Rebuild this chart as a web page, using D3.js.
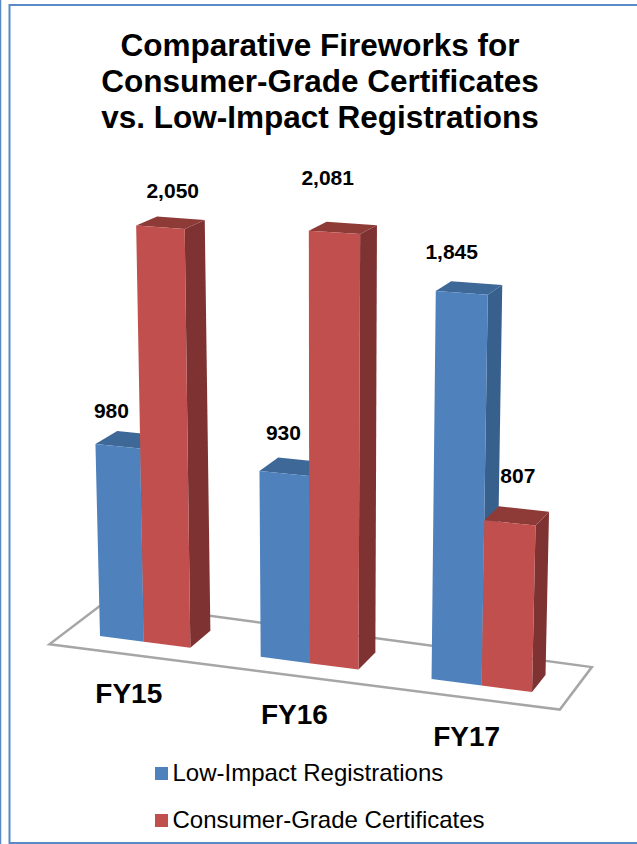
<!DOCTYPE html>
<html>
<head>
<meta charset="utf-8">
<script src="https://cdn.jsdelivr.net/npm/d3@7"></script>
<style>
  html, body { margin: 0; padding: 0; background: #fff; }
  svg { display: block; }
  text { font-family: "Liberation Sans", Arial, sans-serif; fill: #000; }
</style>
</head>
<body>
<div id="chart"></div>
<script>
var categories = ['FY15', 'FY16', 'FY17']
var seriesNames = ['Low-Impact Registrations', 'Consumer-Grade Certificates']
var lowImpact = [980, 930, 1845]
var consumerGrade = [2050, 2081, 807]
var titleLines = ['Comparative Fireworks for', 'Consumer-Grade Certificates', 'vs. Low-Impact Registrations']

var width = 637
var height = 844

var svg = d3.select('#chart')
  .append('svg')
  .attr('width', width)
  .attr('height', height)

// The original picture is soft, so the solids get a very small blur
svg.append('defs')
  .append('filter')
  .attr('id', 'soft')
  .append('feGaussianBlur')
  .attr('stdDeviation', 0.45)

// Frame: open on the right side
svg.append('line')
  .attr('x1', 0.5).attr('x2', 0.5).attr('y1', 0).attr('y2', height)
  .attr('stroke', '#5a8ac6').attr('stroke-width', 1.5)
svg.append('path')
  .attr('d', d3.line()([[width, 5], [9.5, 5], [9.5, 843], [width, 843]]))
  .attr('fill', 'none')
  .attr('stroke', '#5a8ac6').attr('stroke-width', 2)

// Flat coordinates along the floor: a bar is one unit wide
var gapUnits = 1.47
var flatLength = 6 + 2 * gapUnits
var xGroup = d3.scaleBand()
  .domain(categories)
  .range([0, flatLength])
  .paddingInner(gapUnits / (2 + gapUnits))
var xSeries = d3.scaleBand()
  .domain(seriesNames)
  .range([0, 2])

// Scales for the tilted view
var xFloor = d3.scalePow().exponent(1.045).domain([0, flatLength]).range([100, 532])
var yFloor = d3.scaleLinear().domain([100, 532]).range([636, 692])
var yValue = d3.scalePow().exponent(1.04).domain([0, 2100]).range([0, 424])
var heightGrow = d3.scaleLinear().domain([100, 532]).range([1, 1.0613])
var lean = d3.scaleLinear().domain([100, 532]).range([-9.5, 9])
var depthX = d3.scaleLinear().domain([192, 532]).range([20, 13.5])
var depthY = d3.scaleLinear().domain([0, 2050]).range([-17, -9])

function project(flat, value, depth) {
  var x0 = flat < 0 ? 100 + flat * 47 : xFloor(flat)
  var y0 = yFloor(x0)
  var f = value / 2050
  return [
    x0 + lean(x0) * f + depth * depthX(x0),
    y0 - yValue(value) * heightGrow(x0) + depth * depthY(value)
  ]
}

function polygon(points) {
  return points.map(function(p) { return p.join(',') }).join(' ')
}

// Floor
var floorLeft = -0.72
var floorRight = flatLength + 0.74
svg.append('polygon')
  .attr('points', polygon([
    project(floorLeft, 0, -0.75),
    project(floorRight, 0, -0.75),
    project(floorRight, 0, 1.75),
    project(floorLeft, 0, 1.75)
  ]))
  .attr('fill', 'white')
  .attr('stroke', '#a6a6a6')
  .attr('stroke-width', 2.5)
  .attr('filter', 'url(#soft)')

var colorFront = d3.scaleOrdinal().domain(seriesNames).range(['#4f81bd', '#c0504d'])
var colorTop = d3.scaleOrdinal().domain(seriesNames).range(['#3e6797', '#8e3b39'])
var colorSide = d3.scaleOrdinal().domain(seriesNames).range(['#38608d', '#7e3230'])

var bars = []
categories.forEach(function(cat, i) {
  bars.push({ cat: cat, series: seriesNames[0], value: lowImpact[i] })
  bars.push({ cat: cat, series: seriesNames[1], value: consumerGrade[i] })
})

function barStart(d) {
  return xGroup(d.cat) + xSeries(d.series)
}

var barG = svg.selectAll('.bar')
  .data(bars)
  .enter()
  .append('g')
  .attr('class', 'bar')
  .attr('filter', 'url(#soft)')

barG.append('polygon')
  .attr('fill', function(d) { return colorSide(d.series) })
  .attr('points', function(d) {
    var a = barStart(d) + 1
    return polygon([project(a, 0, 0), project(a, d.value, 0), project(a, d.value, 1), project(a, 0, 1)])
  })

barG.append('polygon')
  .attr('fill', function(d) { return colorTop(d.series) })
  .attr('points', function(d) {
    var a = barStart(d)
    return polygon([project(a, d.value, 0), project(a + 1, d.value, 0), project(a + 1, d.value, 1), project(a, d.value, 1)])
  })

barG.append('polygon')
  .attr('fill', function(d) { return colorFront(d.series) })
  .attr('points', function(d) {
    var a = barStart(d)
    return polygon([project(a, 0, 0), project(a + 1, 0, 0), project(a + 1, d.value, 0), project(a, d.value, 0)])
  })

// Value labels were placed by hand in the original, nudged per bar
var labelNudge = [[-27, -15], [-8, -20], [-19, -20], [-24, -38], [-25, -24], [-6, -26]]
svg.selectAll('.bar-label')
  .data(bars)
  .enter()
  .append('text')
  .attr('class', 'bar-label')
  .attr('text-anchor', 'middle')
  .attr('font-weight', 'bold')
  .attr('font-size', 21)
  .attr('x', function(d, i) {
    return project(barStart(d) + 0.5, d.value, 1)[0] + labelNudge[i][0]
  })
  .attr('y', function(d, i) {
    return project(barStart(d) + 0.5, d.value, 1)[1] + labelNudge[i][1]
  })
  .text(function(d) { return d3.format(',')(d.value) })

// Category labels sit under the floor front edge
svg.selectAll('.cat-label')
  .data(categories)
  .enter()
  .append('text')
  .attr('class', 'cat-label')
  .attr('text-anchor', 'middle')
  .attr('font-weight', 'bold')
  .attr('font-size', 28)
  .attr('x', function(d) { return project(xGroup(d) + 1, 0, 0)[0] - 15 })
  .attr('y', function(d) { return project(xGroup(d) + 1, 0, 0)[1] + 61 })
  .text(function(d) { return d })

// Title
svg.selectAll('.title')
  .data(titleLines)
  .enter()
  .append('text')
  .attr('class', 'title')
  .attr('text-anchor', 'middle')
  .attr('font-weight', 'bold')
  .attr('font-size', 31.5)
  .attr('x', 320)
  .attr('y', function(d, i) { return 56 + i * 36 })
  .text(function(d) { return d })

// Legend
var legendY = d3.scaleBand().domain(seriesNames).range([767, 861]).paddingInner(0)
var legend = svg.selectAll('.legend')
  .data(seriesNames)
  .enter()
  .append('g')
  .attr('class', 'legend')
  .attr('transform', function(d) { return 'translate(155,' + legendY(d) + ')' })
legend.append('rect')
  .attr('width', 13)
  .attr('height', 13)
  .attr('fill', function(d) { return colorFront(d) })
legend.append('text')
  .attr('x', 17.5)
  .attr('y', 14)
  .attr('font-size', 24)
  .text(function(d) { return d })
</script>
</body>
</html>
